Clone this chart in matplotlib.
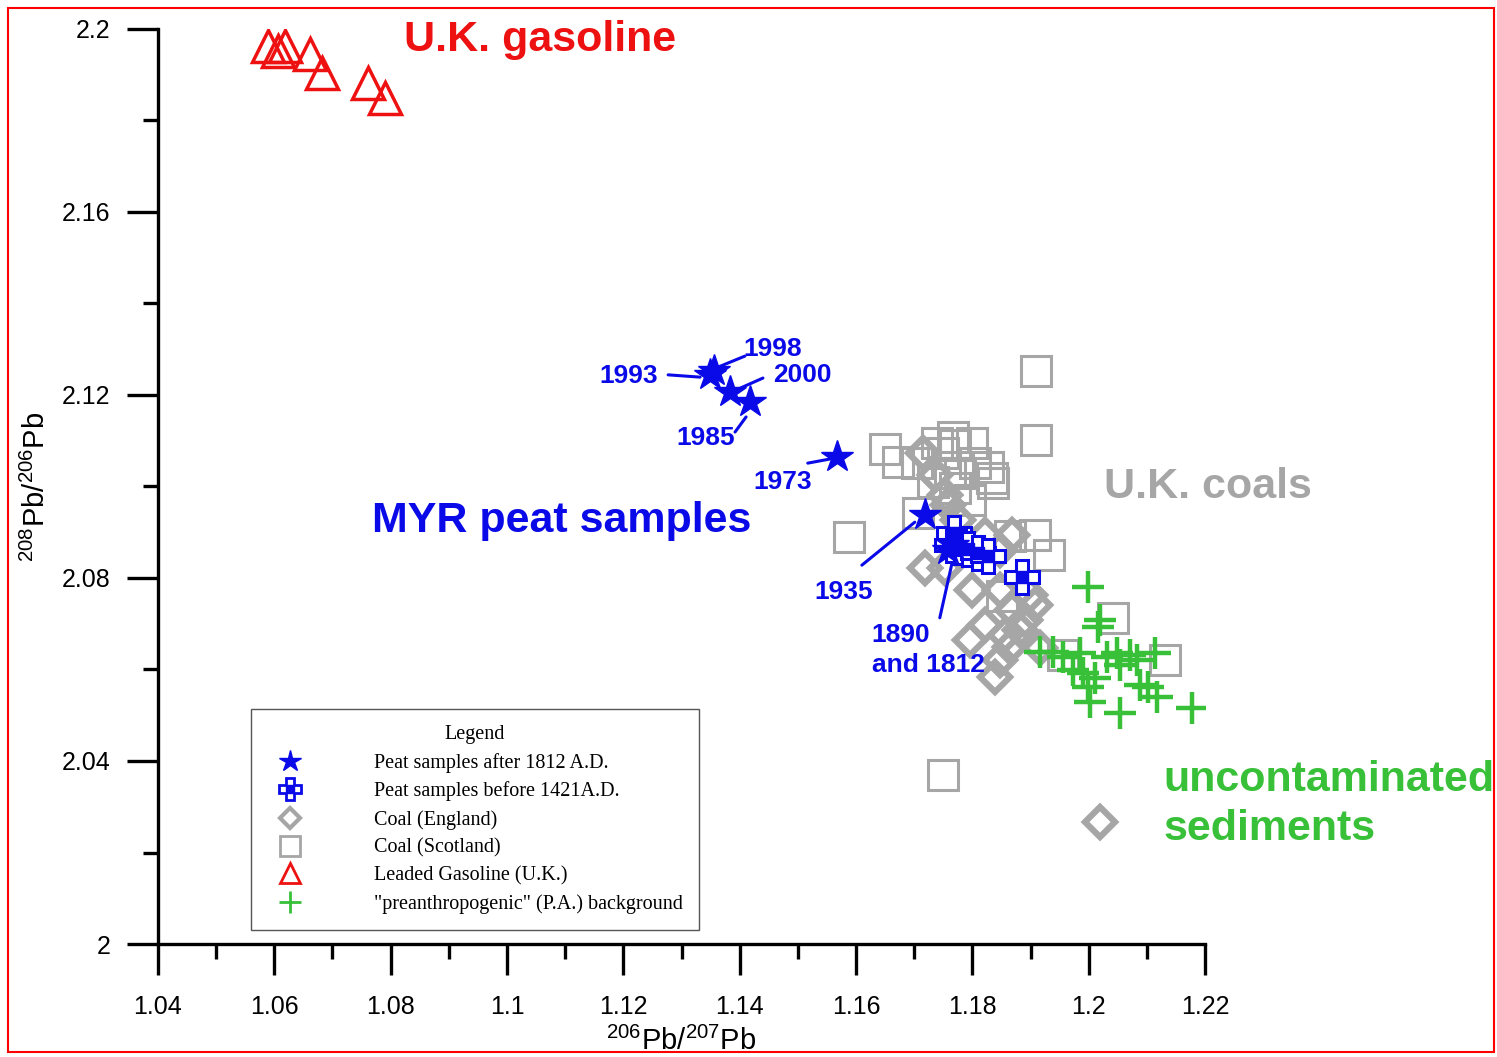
import matplotlib
matplotlib.use('Agg')
import matplotlib.pyplot as plt
import matplotlib.ticker as ticker
from matplotlib.lines import Line2D
from matplotlib.patches import Rectangle
from matplotlib.legend_handler import HandlerTuple

plt.rcParams['font.family'] = ['Liberation Sans', 'DejaVu Sans']
plt.rcParams['mathtext.default'] = 'regular'

BLUE = '#0A0AE8'
GRAY = '#A6A6A6'
RED = '#EE1111'
GREEN = '#38C038'

# Leaded gasoline (U.K.)
gas_x = [1.0589, 1.0606, 1.0618, 1.0661, 1.0682, 1.0761, 1.0790]
gas_y = [2.1963, 2.1952, 2.1963, 2.1945, 2.1904, 2.1882, 2.1849]

# Peat samples after 1812 A.D.
star_x = [1.1349, 1.1356, 1.1383, 1.1418, 1.1567, 1.1719, 1.1767, 1.1758]
star_y = [2.1244, 2.1252, 2.1207, 2.1185, 2.1064, 2.0938, 2.0872, 2.0861]

# Peat samples before 1421 A.D.
old_x = [1.1768, 1.1765, 1.1779, 1.1793, 1.1810, 1.1827, 1.1885]
old_y = [2.0898, 2.0872, 2.0868, 2.0863, 2.0855, 2.0848, 2.0802]

# Coal (Scotland)
sco_x = [1.1909, 1.1909, 1.1588, 1.1750, 1.1650, 1.1672, 1.1705, 1.1739, 1.1767, 1.1770,
         1.1750, 1.1799, 1.1804, 1.1827, 1.1834, 1.1732, 1.1762, 1.1770, 1.1796, 1.1835,
         1.1707, 1.1779, 1.1865, 1.1908, 1.1932, 1.1851, 1.2042, 1.1956, 1.2131]
sco_y = [2.1252, 2.1102, 2.0890, 2.0369, 2.1082, 2.1054, 2.1051, 2.1095, 2.1108, 2.1091,
         2.1073, 2.1095, 2.1051, 2.1043, 2.1019, 2.1010, 2.1030, 2.0997, 2.0970, 2.1008,
         2.0942, 2.1030, 2.0892, 2.0894, 2.0850, 2.0761, 2.0713, 2.0632, 2.0621]

# Coal (England)
eng_x = [1.1715, 1.1736, 1.1753, 1.1758, 1.1775, 1.1822, 1.1868, 1.1847, 1.1719, 1.1753,
         1.1799, 1.1847, 1.1899, 1.1908, 1.1868, 1.1890, 1.1822, 1.1796, 1.1865, 1.1916,
         1.1847, 1.1839, 1.1882, 1.1856, 1.2019]
eng_y = [2.1073, 2.1025, 2.0981, 2.0960, 2.0927, 2.0894, 2.0894, 2.0861, 2.0822, 2.0822,
         2.0774, 2.0774, 2.0763, 2.0741, 2.0730, 2.0708, 2.0697, 2.0664, 2.0649, 2.0647,
         2.0621, 2.0584, 2.0686, 2.0675, 2.0267]

# "preanthropogenic" (P.A.) background
pa_x = [1.1999, 1.2019, 1.2016, 1.1916, 1.1939, 1.1956, 1.1973, 1.1990, 1.2011, 1.1999,
        1.2002, 1.2054, 1.2049, 1.2031, 1.2071, 1.2083, 1.2114, 1.2102, 1.2117, 1.2178,
        1.1985, 1.2054, 1.2088]
pa_y = [2.0780, 2.0708, 2.0693, 2.0638, 2.0638, 2.0627, 2.0599, 2.0592, 2.0581, 2.0562,
        2.0529, 2.0505, 2.0636, 2.0627, 2.0632, 2.0621, 2.0636, 2.0562, 2.0540, 2.0516,
        2.0636, 2.0610, 2.0566]

# year labels: text, label anchor, leader line start and end
year_labels = ['1993', '1998', '2000', '1985', '1973', '1935', '1890\nand 1812']
year_ha = ['center', 'center', 'center', 'center', 'center', 'center', 'left']
year_text_xy = [(1.1210, 2.1242), (1.1457, 2.1301), (1.1507, 2.1244), (1.1342, 2.1106),
                (1.1474, 2.1010), (1.1578, 2.0769), (1.1627, 2.0643)]
year_line_start = [(1.1277, 2.1244), (1.1409, 2.1285), (1.1440, 2.1237), (1.1392, 2.1119),
                   (1.1517, 2.1051), (1.1610, 2.0828), (1.1744, 2.0713)]
year_line_end = [(1.1332, 2.1239), (1.1363, 2.1261), (1.1401, 2.1215), (1.1411, 2.1152),
                 (1.1555, 2.1060), (1.1701, 2.0922), (1.1770, 2.0861)]

fig = plt.figure(figsize=(14.97, 10.57), dpi=100)
ax = fig.add_axes([0.1055, 0.1069, 0.6995, 0.8657])

ax.plot(eng_x, eng_y, linestyle='none', marker='D', markersize=15, markerfacecolor='none',
        markeredgecolor=GRAY, markeredgewidth=4.5, zorder=2)
ax.plot(sco_x, sco_y, linestyle='none', marker='s', markersize=21, markerfacecolor='none',
        markeredgecolor=GRAY, markeredgewidth=2.2, zorder=3)
ax.plot(pa_x, pa_y, linestyle='none', marker='+', markersize=23, markeredgecolor=GREEN,
        markeredgewidth=3.2, zorder=4)
ax.plot(gas_x, gas_y, linestyle='none', marker='^', markersize=23, markerfacecolor='none',
        markeredgecolor=RED, markeredgewidth=2.5, zorder=4)
ax.plot(old_x, old_y, linestyle='none', marker='P', markersize=25, markerfacecolor='white',
        markeredgecolor=BLUE, markeredgewidth=2.2, zorder=5)
ax.plot(old_x, old_y, linestyle='none', marker='s', markersize=9, markerfacecolor=BLUE,
        markeredgecolor=BLUE, zorder=6)
ax.plot(star_x, star_y, linestyle='none', marker='*', markersize=24, markerfacecolor=BLUE,
        markeredgecolor=BLUE, zorder=7)

for lab, ha, txy, sxy, exy in zip(year_labels, year_ha, year_text_xy, year_line_start, year_line_end):
    ax.annotate('', xy=exy, xytext=sxy,
                arrowprops=dict(arrowstyle='-', color=BLUE, lw=2.2, shrinkA=0, shrinkB=0))
    ax.text(txy[0], txy[1], lab, color=BLUE, fontsize=19, fontweight='bold',
            ha=ha, va='center', linespacing=1.3)

ax.text(1.0823, 2.1975, 'U.K. gasoline', color=RED, fontsize=31, fontweight='bold', va='center')
ax.text(1.0768, 2.0925, 'MYR peat samples', color=BLUE, fontsize=31, fontweight='bold', va='center')
ax.text(1.2026, 2.0999, 'U.K. coals', color=GRAY, fontsize=31, fontweight='bold', va='center')
ax.text(1.2128, 2.0305, 'uncontaminated\nsediments', color=GREEN, fontsize=31,
        fontweight='bold', va='center', linespacing=1.32, clip_on=False)

ax.set_xlim(1.04, 1.22)
ax.set_ylim(2.0, 2.2)
ax.xaxis.set_major_locator(ticker.MultipleLocator(0.02))
ax.xaxis.set_minor_locator(ticker.MultipleLocator(0.01))
ax.yaxis.set_major_locator(ticker.MultipleLocator(0.04))
ax.yaxis.set_minor_locator(ticker.MultipleLocator(0.02))
fmt = ticker.FuncFormatter(lambda v, p: '%g' % round(v, 4))
ax.xaxis.set_major_formatter(fmt)
ax.yaxis.set_major_formatter(fmt)

for s in ['top', 'right']:
    ax.spines[s].set_visible(False)
for s in ['left', 'bottom']:
    ax.spines[s].set_linewidth(2.4)
ax.tick_params(which='major', direction='out', length=22, width=2.4, labelsize=18, pad=12)
ax.tick_params(axis='x', which='major', pad=15)
ax.tick_params(which='minor', direction='out', length=11, width=2.4)

ax.set_xlabel('$^{206}$Pb/$^{207}$Pb', fontsize=21, labelpad=5)
ax.set_ylabel('$^{208}$Pb/$^{206}$Pb', fontsize=21, labelpad=8)

handles = [
    Line2D([], [], linestyle='none', marker='*', markersize=16, color=BLUE),
    (Line2D([], [], linestyle='none', marker='P', markersize=16, markerfacecolor='white',
            markeredgecolor=BLUE, markeredgewidth=2),
     Line2D([], [], linestyle='none', marker='s', markersize=6, color=BLUE)),
    Line2D([], [], linestyle='none', marker='D', markersize=10, markerfacecolor='none',
           markeredgecolor=GRAY, markeredgewidth=3),
    Line2D([], [], linestyle='none', marker='s', markersize=15, markerfacecolor='none',
           markeredgecolor=GRAY, markeredgewidth=2),
    Line2D([], [], linestyle='none', marker='^', markersize=15, markerfacecolor='none',
           markeredgecolor=RED, markeredgewidth=2),
    Line2D([], [], linestyle='none', marker='+', markersize=16, markeredgecolor=GREEN,
           markeredgewidth=2),
]
labels = ['Peat samples after 1812 A.D.', 'Peat samples before 1421A.D.', 'Coal (England)',
          'Coal (Scotland)', 'Leaded Gasoline (U.K.)', '"preanthropogenic" (P.A.) background']
leg = ax.legend(handles, labels, title='Legend', loc='lower left',
                bbox_to_anchor=(0.0888, 0.0153), borderaxespad=0, fancybox=False,
                edgecolor='#555555', framealpha=1, handlelength=2.3, handletextpad=3.0,
                borderpad=0.8, labelspacing=0.43,
                handler_map={tuple: HandlerTuple(ndivide=1, pad=0)},
                prop={'family': 'Liberation Serif', 'size': 14.5},
                title_fontproperties={'family': 'Liberation Serif', 'size': 14.5})
leg.get_frame().set_linewidth(1.0)
leg.set_zorder(10)

fig.patches.append(Rectangle((8 / 1497, 5 / 1057), 1486 / 1497, 1044 / 1057,
                             transform=fig.transFigure, fill=False, edgecolor='red', lw=1.5))

fig.savefig('out.png', dpi=100)
